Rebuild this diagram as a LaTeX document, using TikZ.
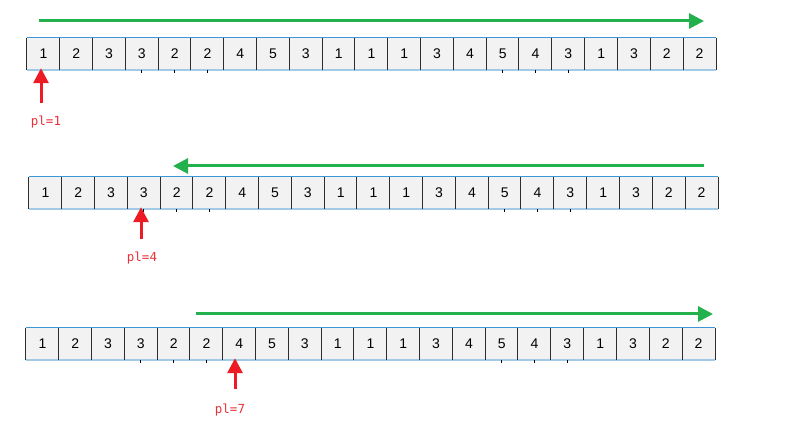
\documentclass[tikz,border=0pt]{standalone}
\usepackage{fontspec}
\setmainfont{Liberation Sans}
\newfontfamily\monof{DejaVu Sans Mono}
\usetikzlibrary{arrows.meta}
\definecolor{cellfill}{RGB}{242,242,242}
\definecolor{topblue}{RGB}{60,150,215}
\definecolor{botblue}{RGB}{160,202,230}
\definecolor{sepgray}{RGB}{45,45,45}
\definecolor{arrgreen}{RGB}{34,177,76}
\definecolor{arrred}{RGB}{237,28,36}
\definecolor{txtred}{RGB}{232,50,58}
\tikzset{
  cell/.style={minimum width=32.81pt, minimum height=32pt, inner sep=0pt, fill=cellfill,
    font=\fontsize{14}{16}\selectfont},
  topline/.style={draw=topblue, line width=1.2pt},
  botline/.style={draw=botblue, line width=2pt},
  sepline/.style={draw=sepgray, line width=1pt},
  tickline/.style={draw=black, line width=0.9pt},
  greenarrow/.style={draw=arrgreen, line width=3pt, -{Triangle[length=15pt,width=15pt]}},
  redarrow/.style={draw=arrred, line width=3pt, -{Triangle[length=15pt,width=15pt]}},
  lbl/.style={text=txtred, font=\monof\fontsize{12.5}{14}\selectfont, inner sep=0pt}
}
\begin{document}
\begin{tikzpicture}[x=1pt,y=-1pt]
\useasboundingbox (0,0) rectangle (807,446);
\def\vals{1,2,3,3,2,2,4,5,3,1,1,1,3,4,5,4,3,1,3,2,2}
\foreach \r/\xo/\yt in {1/27/38, 2/29/177, 3/26/328} {
  \foreach \v [count=\i] in \vals {
    \node[cell] (r\r c\i) at ({\xo + (\i-0.5)*32.81}, {\yt+16}) {\v};
  }
  \draw[topline] (r\r c1.north west) -- (r\r c21.north east);
  \draw[botline] (r\r c1.south west) -- (r\r c21.south east);
  \foreach \i in {1,...,21} {
    \draw[sepline] (r\r c\i.north west) -- (r\r c\i.south west);
  }
  \draw[sepline] (r\r c21.north east) -- (r\r c21.south east);
  \foreach \i in {4,5,6,15,16,17} {
    \draw[tickline] (r\r c\i.south) -- ++(0,2.5);
  }
}
% green arrows
\coordinate (g1s) at (39,21);  \coordinate (g1e) at (704,21);
\coordinate (g2s) at (704,166); \coordinate (g2e) at (173,166);
\coordinate (g3s) at (196,314); \coordinate (g3e) at (713,314);
\draw[greenarrow] (g1s) -- (g1e);
\draw[greenarrow] (g2s) -- (g2e);
\draw[greenarrow] (g3s) -- (g3e);
% red arrows and labels
\coordinate (a1) at (41,103);
\coordinate (a2) at (141,239);
\coordinate (a3) at (235,389);
\draw[redarrow] (a1) -- ([yshift=2pt]a1 |- r1c1.south);
\draw[redarrow] (a2) -- ([yshift=2pt]a2 |- r2c4.south);
\draw[redarrow] (a3) -- ([yshift=2pt]a3 |- r3c7.south);
\node[lbl] (l1) at (46,122) {pl=1};
\node[lbl] (l2) at (142,258) {pl=4};
\node[lbl] (l3) at (230,410) {pl=7};
\end{tikzpicture}
\end{document}
